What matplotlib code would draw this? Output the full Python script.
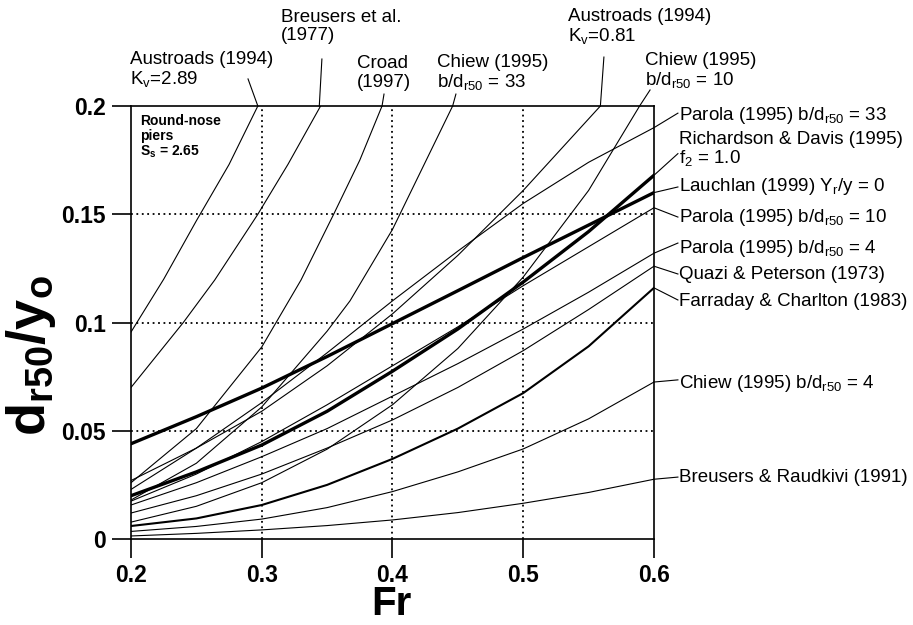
import matplotlib
matplotlib.use("Agg")
import matplotlib.pyplot as plt

plt.rcParams["font.family"] = ["Liberation Sans", "DejaVu Sans"]
plt.rcParams["mathtext.fontset"] = "custom"
plt.rcParams["mathtext.rm"] = "Liberation Sans"
plt.rcParams["mathtext.it"] = "Liberation Sans"
plt.rcParams["mathtext.bf"] = "Liberation Sans:bold"

# ---- curve data (Fr, d_r50/y_o) ----
# curves that leave through the top of the frame
aus289_fr = [0.2, 0.225, 0.25, 0.275, 0.297]
aus289_y = [0.0956, 0.120, 0.147, 0.173, 0.2]

breusers_fr = [0.2, 0.24, 0.264, 0.297, 0.32, 0.345]
breusers_y = [0.070, 0.100, 0.1196, 0.150, 0.173, 0.2]

croad_fr = [0.2, 0.25, 0.3, 0.33, 0.355, 0.375, 0.392]
croad_y = [0.026, 0.051, 0.0887, 0.1196, 0.150, 0.175, 0.2]

chiew33_fr = [0.2, 0.25, 0.3, 0.35, 0.3675, 0.4, 0.446]
chiew33_y = [0.018, 0.035, 0.061, 0.096, 0.110, 0.143, 0.2]

aus081_fr = [0.2, 0.25, 0.3, 0.35, 0.4, 0.45, 0.5, 0.559]
aus081_y = [0.027, 0.042, 0.059, 0.080, 0.104, 0.131, 0.161, 0.2]

chiew10_fr = [0.2, 0.25, 0.3, 0.35, 0.4, 0.45, 0.5, 0.55, 0.589]
chiew10_y = [0.0078, 0.0151, 0.026, 0.0415, 0.062, 0.088, 0.121, 0.161, 0.2]

# curves that run to Fr = 0.6
fr = [0.2, 0.25, 0.3, 0.35, 0.4, 0.45, 0.5, 0.55, 0.6]
parola33_y = [0.0229, 0.042, 0.063, 0.086, 0.110, 0.133, 0.155, 0.174, 0.190]
rd_y = [0.020, 0.031, 0.0434, 0.059, 0.0775, 0.097, 0.1187, 0.142, 0.168]
lauchlan_y = [0.044, 0.0565, 0.0697, 0.0843, 0.0995, 0.1147, 0.130, 0.145, 0.160]
parola10_y = [0.0175, 0.030, 0.045, 0.062, 0.080, 0.098, 0.117, 0.135, 0.153]
parola4_y = [0.0157, 0.026, 0.038, 0.051, 0.066, 0.081, 0.097, 0.114, 0.132]
quazi_y = [0.012, 0.020, 0.030, 0.042, 0.055, 0.070, 0.087, 0.106, 0.126]
farraday_y = [0.006, 0.0095, 0.0157, 0.025, 0.037, 0.051, 0.0674, 0.089, 0.116]
chiew4_y = [0.0035, 0.0058, 0.0092, 0.0145, 0.0219, 0.031, 0.0416, 0.0555, 0.0725]
br_y = [0.0014, 0.0026, 0.0042, 0.0062, 0.0088, 0.0122, 0.0165, 0.0215, 0.0276]

fig = plt.figure(figsize=(9.13, 6.25), dpi=100)
ax = fig.add_axes([0.1435, 0.1376, 0.5728, 0.6928])

thin = 0.8
ax.plot(aus289_fr, aus289_y, color="black", lw=thin)
ax.plot(breusers_fr, breusers_y, color="black", lw=thin)
ax.plot(croad_fr, croad_y, color="black", lw=thin)
ax.plot(chiew33_fr, chiew33_y, color="black", lw=thin)
ax.plot(aus081_fr, aus081_y, color="black", lw=thin)
ax.plot(chiew10_fr, chiew10_y, color="black", lw=thin)
ax.plot(fr, parola33_y, color="black", lw=thin)
ax.plot(fr, rd_y, color="black", lw=2.4)
ax.plot(fr, lauchlan_y, color="black", lw=2.4)
ax.plot(fr, parola10_y, color="black", lw=thin)
ax.plot(fr, parola4_y, color="black", lw=thin)
ax.plot(fr, quazi_y, color="black", lw=thin)
ax.plot(fr, farraday_y, color="black", lw=1.5)
ax.plot(fr, chiew4_y, color="black", lw=thin)
ax.plot(fr, br_y, color="black", lw=thin)

ax.set_xlim(0.2, 0.6)
ax.set_ylim(0, 0.2)
ax.set_xticks([0.2, 0.3, 0.4, 0.5, 0.6])
ax.set_xticklabels(["0.2", "0.3", "0.4", "0.5", "0.6"])
ax.set_yticks([0, 0.05, 0.1, 0.15, 0.2])
ax.set_yticklabels(["0", "0.05", "0.1", "0.15", "0.2"])
for v in [0.3, 0.4, 0.5]:
    ax.axvline(v, color="black", lw=1.3, ls=(0, (1, 2)), zorder=0)
for v in [0.05, 0.1, 0.15]:
    ax.axhline(v, color="black", lw=1.3, ls=(0, (1, 2)), zorder=0)

ax.tick_params(direction="out", length=14, width=1.2, labelsize=16.5, pad=4)
for lbl in ax.get_xticklabels() + ax.get_yticklabels():
    lbl.set_fontweight("bold")
for s in ax.spines.values():
    s.set_linewidth(1.2)

fig.text(0.4285, 0.016, "Fr", fontsize=29, fontweight="bold", ha="center", va="baseline")
fig.text(0.034, 0.432, r"$\mathbf{d_{r50}/y_o}$", fontsize=39, rotation=90,
         ha="center", va="center")

ax.text(0.207, 0.1965, "Round-nose\npiers\n" + r"S$_\mathregular{s}$ = 2.65",
        fontsize=10, fontweight="bold", va="top", ha="left", linespacing=1.1)

# ---- top labels with leader lines ----
fs = 13.5
top_labels = [
    ("Austroads (1994)\nK$_\\mathregular{v}$=2.89", 0.1995, 0.2166, (0.297, 0.2895), 0.2125),
    ("Breusers et al.\n(1977)", 0.3147, 0.2368, (0.344, 0.346), 0.2217),
    ("Croad\n(1997)", 0.3728, 0.2152, (0.392, 0.3935), 0.2055),
    ("Chiew (1995)\nb/d$_\\mathregular{r50}$ = 33", 0.4340, 0.2152, (0.446, 0.4485), 0.2055),
    ("Austroads (1994)\nK$_\\mathregular{v}$=0.81", 0.5342, 0.2365, (0.559, 0.5617), 0.2226),
    ("Chiew (1995)\nb/d$_\\mathregular{r50}$ = 10", 0.5931, 0.2162, (0.589, 0.597), 0.2074),
]
for text, tx, ty, (x0, x1), y1 in top_labels:
    ax.text(tx, ty, text, fontsize=fs, ha="left", va="center", linespacing=1.1,
            clip_on=False)
    ax.plot([x0, x1], [0.2, y1], color="black", lw=0.8, clip_on=False)

# ---- right labels with leader lines ----
right_labels = [
    ("Parola (1995) b/d$_\\mathregular{r50}$ = 33", 0.1958, parola33_y[-1], 0.1967),
    ("Richardson & Davis (1995)\nf$_\\mathregular{2}$ = 1.0", 0.1801, rd_y[-1], 0.1780),
    ("Lauchlan (1999) Y$_\\mathregular{r}$/y = 0", 0.1626, lauchlan_y[-1], 0.1626),
    ("Parola (1995) b/d$_\\mathregular{r50}$ = 10", 0.1487, parola10_y[-1], 0.1487),
    ("Parola (1995) b/d$_\\mathregular{r50}$ = 4", 0.1344, parola4_y[-1], 0.1367),
    ("Quazi & Peterson (1973)", 0.1224, quazi_y[-1], 0.1224),
    ("Farraday & Charlton (1983)", 0.1095, farraday_y[-1], 0.1104),
    ("Chiew (1995) b/d$_\\mathregular{r50}$ = 4", 0.0720, chiew4_y[-1], 0.0735),
    ("Breusers & Raudkivi (1991)", 0.0286, br_y[-1], 0.0286),
]
for text, ty, y0, y1 in right_labels:
    ax.text(0.6193, ty, text, fontsize=fs, ha="left", va="center", linespacing=1.0,
            clip_on=False)
    ax.plot([0.6, 0.6183], [y0, y1], color="black", lw=0.8, clip_on=False)

fig.savefig("out.png", dpi=100)
